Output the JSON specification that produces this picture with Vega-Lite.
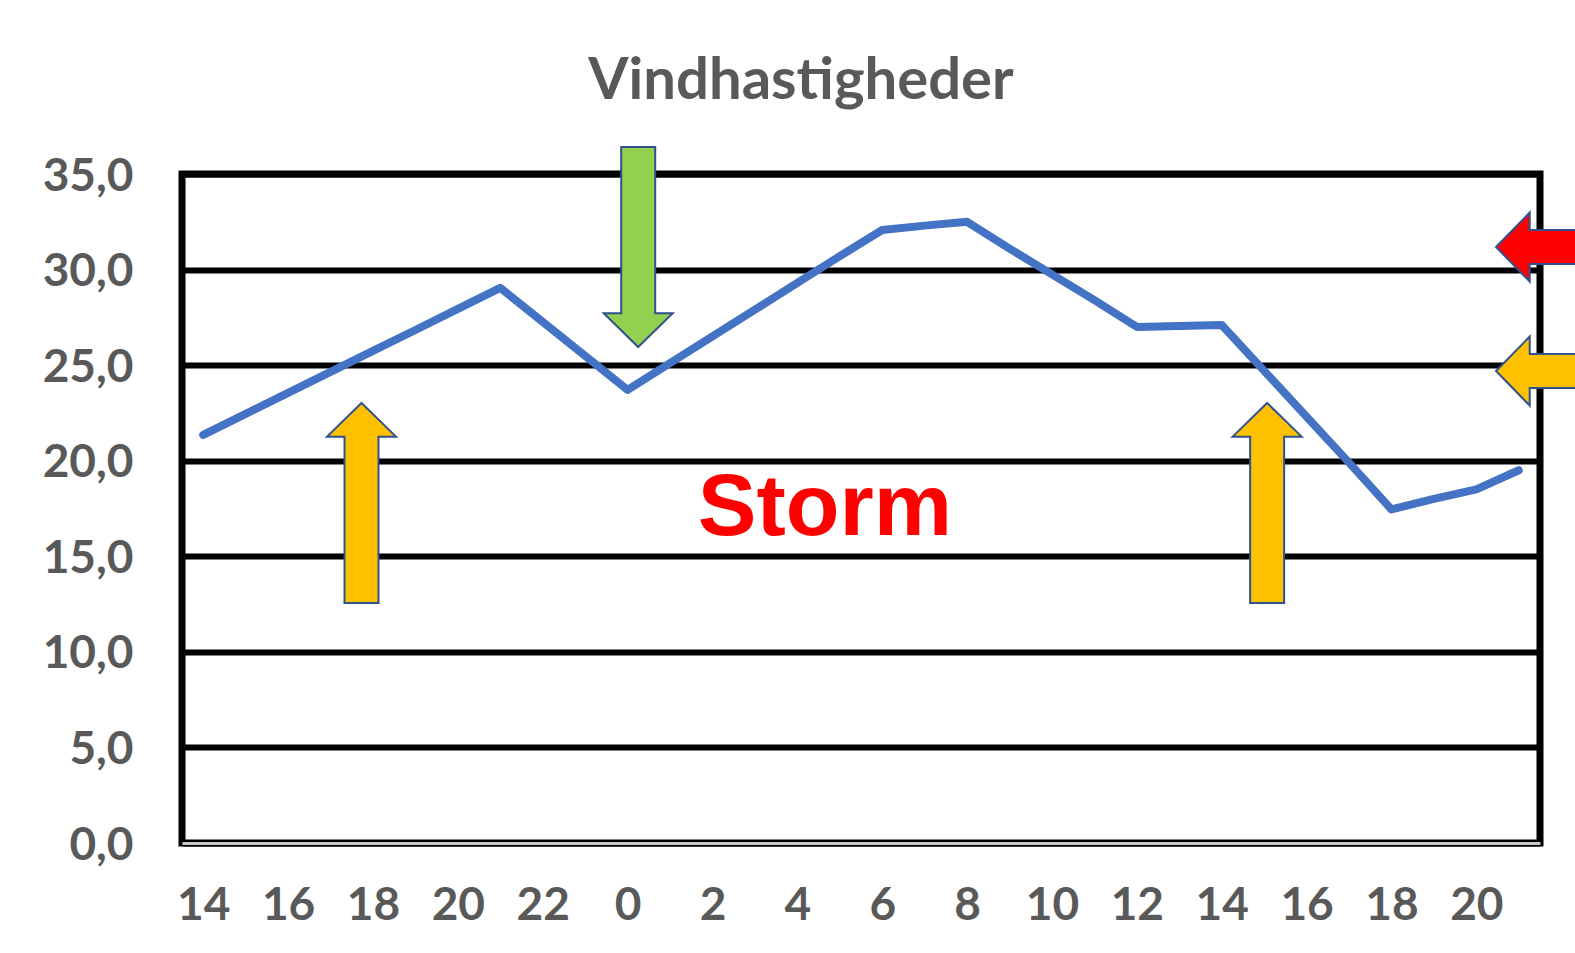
{
  "$schema": "https://vega.github.io/schema/vega-lite/v6.json",
  "width": 1358,
  "height": 669,
  "autosize": {"type": "none"},
  "padding": {"left": 182, "top": 174, "right": 35, "bottom": 110},
  "background": "white",
  "config": {
    "view": {"stroke": "black", "strokeWidth": 7},
    "font": "Lato"
  },
  "title": {
    "text": "Vindhastigheder",
    "font": "Lato",
    "fontSize": 58,
    "fontWeight": "bold",
    "color": "#595959",
    "anchor": "middle",
    "frame": "group",
    "dx": -60,
    "baseline": "alphabetic",
    "offset": -14
  },
  "datasets": {
    "wind": [
      {"t": 0, "vind": 21.35}, {"t": 1, "vind": 22.45}, {"t": 2, "vind": 23.55}, {"t": 3, "vind": 24.65},
      {"t": 4, "vind": 25.75}, {"t": 5, "vind": 26.84}, {"t": 6, "vind": 27.94}, {"t": 7, "vind": 29.04},
      {"t": 8, "vind": 27.26}, {"t": 9, "vind": 25.48}, {"t": 10, "vind": 23.7}, {"t": 11, "vind": 25.1},
      {"t": 12, "vind": 26.5}, {"t": 13, "vind": 27.9}, {"t": 14, "vind": 29.3}, {"t": 15, "vind": 30.7},
      {"t": 16, "vind": 32.07}, {"t": 17, "vind": 32.3}, {"t": 18, "vind": 32.5}, {"t": 19, "vind": 31.1},
      {"t": 20, "vind": 29.75}, {"t": 21, "vind": 28.4}, {"t": 22, "vind": 27.0}, {"t": 23, "vind": 27.05},
      {"t": 24, "vind": 27.1}, {"t": 25, "vind": 24.7}, {"t": 26, "vind": 22.3}, {"t": 27, "vind": 19.9},
      {"t": 28, "vind": 17.45}, {"t": 29, "vind": 18.0}, {"t": 30, "vind": 18.5}, {"t": 31, "vind": 19.5}
    ],
    "arrows": [
      {"t": 3.73, "vind": 17.79, "dir": "up", "kind": "gul"},
      {"t": 10.25, "vind": 31.18, "dir": "down", "kind": "grøn"},
      {"t": 25.07, "vind": 17.79, "dir": "up", "kind": "gul"},
      {"t": 32.82, "vind": 31.18, "dir": "left", "kind": "rød"},
      {"t": 32.82, "vind": 24.69, "dir": "left", "kind": "gul"}
    ],
    "labels": [
      {"t": 14.65, "vind": 16.11, "text": "Storm"}
    ]
  },
  "encoding": {
    "x": {
      "field": "t",
      "type": "quantitative",
      "scale": {"domain": [-0.5, 31.5], "nice": false, "zero": false},
      "axis": {
        "title": null,
        "values": [0, 2, 4, 6, 8, 10, 12, 14, 16, 18, 20, 22, 24, 26, 28, 30],
        "labelExpr": "'' + ((datum.value + 14) % 24)",
        "grid": false,
        "ticks": false,
        "domain": true,
        "domainColor": "#c8c8c8",
        "domainWidth": 3,
        "labelFont": "Lato",
        "labelFontSize": 46,
        "labelFontWeight": "bold",
        "labelColor": "#595959",
        "labelPadding": 40,
        "labelFlush": false,
        "labelOverlap": false
      }
    },
    "y": {
      "field": "vind",
      "type": "quantitative",
      "scale": {"domain": [0, 35], "nice": false},
      "axis": {
        "title": null,
        "values": [0, 5, 10, 15, 20, 25, 30, 35],
        "labelExpr": "replace(format(datum.value, '.1f'), '.', ',')",
        "grid": true,
        "gridColor": "black",
        "gridWidth": 6,
        "gridOpacity": 1,
        "ticks": false,
        "domain": false,
        "labelFont": "Lato",
        "labelFontSize": 46,
        "labelFontWeight": "bold",
        "labelColor": "#595959",
        "labelPadding": 49,
        "labelOffset": 2,
        "labelFlush": false,
        "labelOverlap": false
      }
    }
  },
  "layer": [
    {
      "data": {"name": "wind"},
      "mark": {"type": "line", "color": "#4472C4", "strokeWidth": 8, "strokeCap": "round", "strokeJoin": "round", "clip": false}
    },
    {
      "data": {"name": "labels"},
      "mark": {"type": "text", "font": "Liberation Sans", "fontSize": 88, "fontWeight": "bold", "color": "#FF0000", "align": "center", "baseline": "alphabetic"},
      "encoding": {"text": {"field": "text"}}
    },
    {
      "data": {"name": "arrows"},
      "mark": {"type": "point", "filled": true, "opacity": 1, "stroke": "#2F528F", "strokeWidth": 2, "size": 40000, "clip": false},
      "encoding": {
        "shape": {
          "field": "dir",
          "type": "nominal",
          "scale": {
            "domain": ["up", "down", "left"],
            "range": [
              "M0,-1L0.345,-0.663L0.17,-0.663L0.17,1L-0.17,1L-0.17,-0.663L-0.345,-0.663Z",
              "M0,1L0.345,0.663L0.17,0.663L0.17,-1L-0.17,-1L-0.17,0.663L-0.345,0.663Z",
              "M-1,0L-0.663,-0.345L-0.663,-0.17L1,-0.17L1,0.17L-0.663,0.17L-0.663,0.345Z"
            ]
          },
          "legend": null
        },
        "fill": {
          "field": "kind",
          "type": "nominal",
          "scale": {"domain": ["gul", "grøn", "rød"], "range": ["#FFC000", "#92D050", "#FF0000"]},
          "legend": null
        }
      }
    }
  ]
}
